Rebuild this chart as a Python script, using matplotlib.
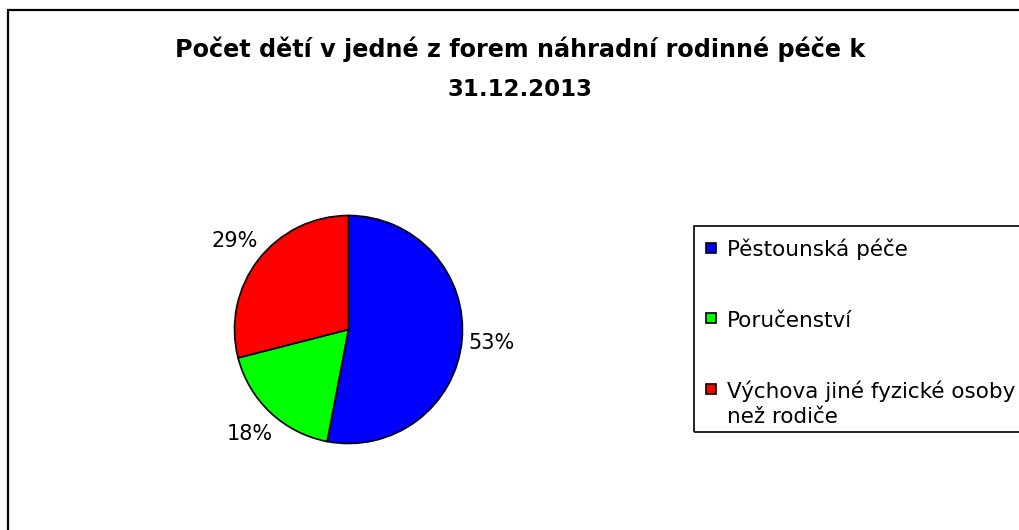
import matplotlib
matplotlib.use("Agg")
import matplotlib.pyplot as plt
from matplotlib.patches import Rectangle

plt.rcParams['font.family'] = ['DejaVu Sans']

title_lines = ["Počet dětí v jedné z forem náhradní rodinné péče k", "31.12.2013"]
categories = ["Pěstounská péče", "Poručenství", "Výchova jiné fyzické osoby\nnež rodiče"]
shares = [53, 18, 29]
colors = ["#0000ff", "#00ff00", "#ff0000"]

W, H = 1019, 530


def fx(px):
    return px / W


def fy(py):
    return 1 - py / H


def main():
    fig = plt.figure(figsize=(W / 100, H / 100), dpi=100)

    # outer chart frame (right and bottom edges fall outside the picture)
    fig.patches.append(Rectangle((fx(8), fy(560)), fx(1100), 550 / H, transform=fig.transFigure,
                                 fill=False, edgecolor="black", linewidth=1.6))

    # title
    fig.text(fx(520), fy(56.5), title_lines[0], ha="center", va="baseline",
             fontsize=17.2, fontweight="bold")
    fig.text(fx(520), fy(96), title_lines[1], ha="center", va="baseline",
             fontsize=16.5, fontweight="bold")

    # pie
    cx, cy, r = 348.5, 329.5, 114
    ax = fig.add_axes([fx(cx - r), fy(cy + r), 2 * r / W, 2 * r / H])
    wedges, texts, autotexts = ax.pie(shares, colors=colors, startangle=90, counterclock=False,
                                      autopct="%1.0f%%", pctdistance=1.26,
                                      wedgeprops=dict(edgecolor="black", linewidth=1.2),
                                      textprops=dict(fontsize=15))
    ax.set_xlim(-1, 1)
    ax.set_ylim(-1, 1)
    ax.axis("off")

    # legend
    fig.patches.append(Rectangle((fx(694), fy(432)), fx(400), 206 / H, transform=fig.transFigure,
                                 fill=False, edgecolor="black", linewidth=1.2))
    baselines = [256.5, 327, 397.5]
    for lab, col, base in zip(categories, colors, baselines):
        fig.patches.append(Rectangle((fx(706), fy(base - 4)), 10 / W, 10 / H,
                                     transform=fig.transFigure, facecolor=col,
                                     edgecolor="black", linewidth=1.2))
        for i, line in enumerate(lab.split("\n")):
            fig.text(fx(727), fy(base + i * 25.6), line, ha="left", va="baseline", fontsize=15.5)

    fig.savefig("out.png", dpi=100, facecolor="white")


if __name__ == "__main__":
    main()
